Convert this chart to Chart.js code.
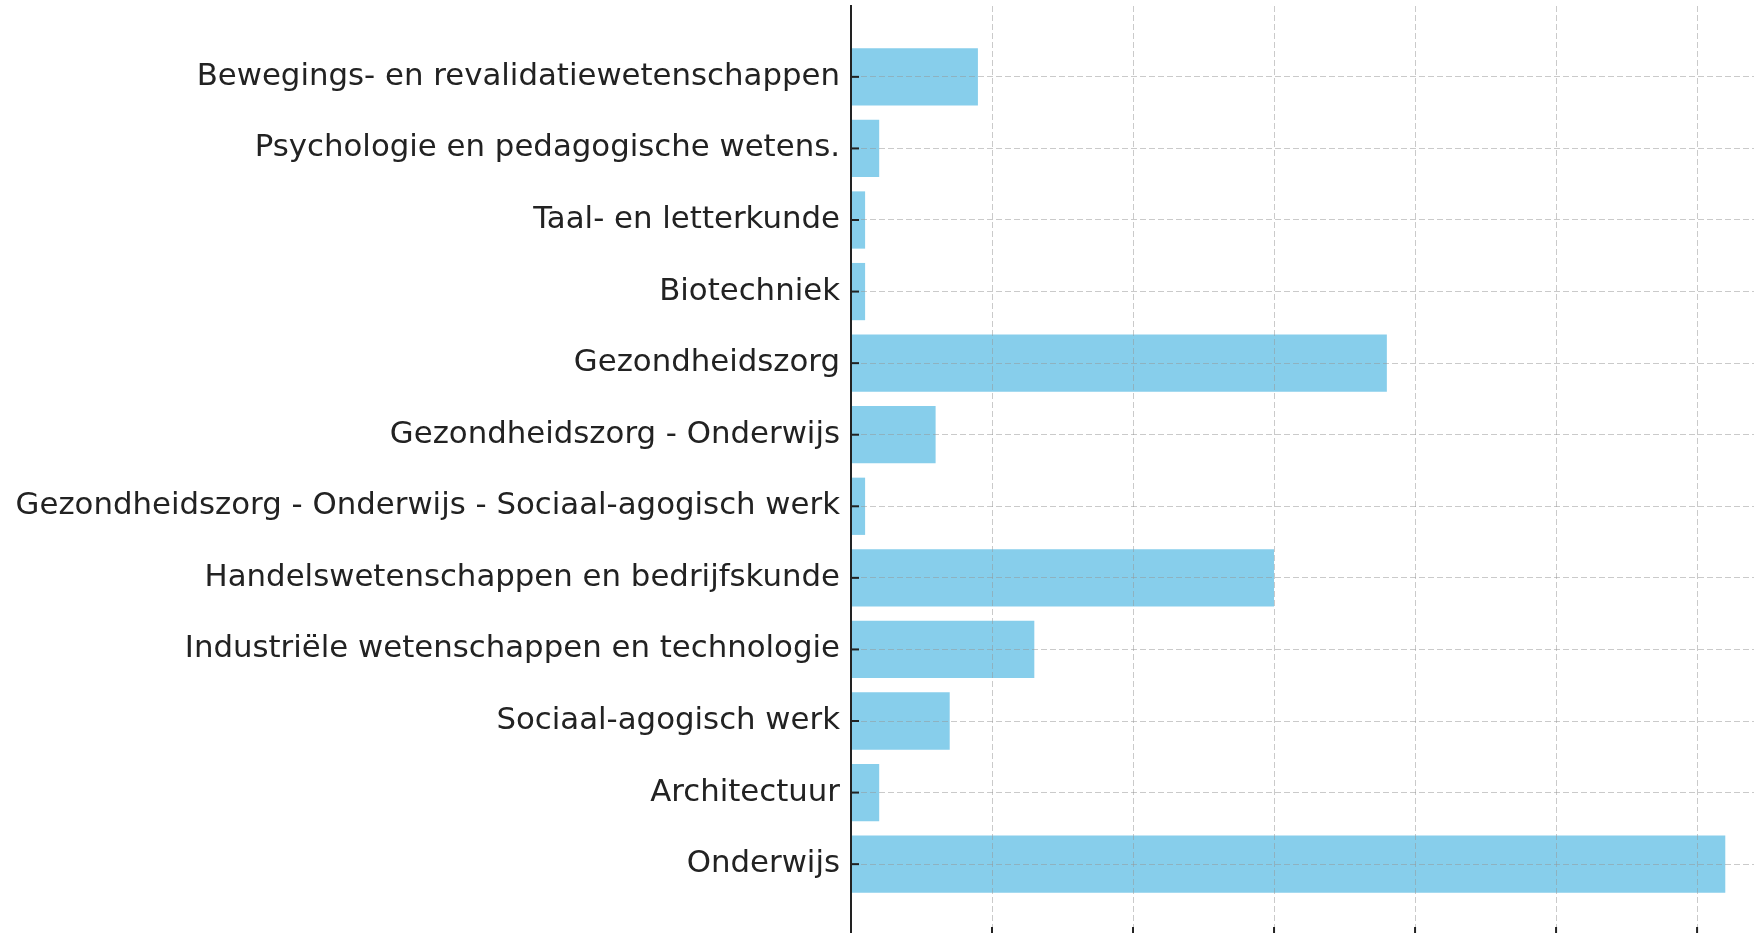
<!DOCTYPE html>
<html>
<head>
<meta charset="utf-8">
<title>Studenten per studiegebied</title>
<script src="https://cdn.jsdelivr.net/npm/chart.js@4.4.0/dist/chart.umd.min.js"></script>
<style>
  html, body { margin: 0; padding: 0; background: #ffffff; overflow: hidden; }
  #wrap { position: absolute; left: 0; top: 0; }
</style>
</head>
<body>
<div id="wrap">
  <canvas id="chart" width="1800" height="1000"></canvas>
</div>
<script>
const categories = [
  "Bewegings- en revalidatiewetenschappen",
  "Psychologie en pedagogische wetens.",
  "Taal- en letterkunde",
  "Biotechniek",
  "Gezondheidszorg",
  "Gezondheidszorg - Onderwijs",
  "Gezondheidszorg - Onderwijs - Sociaal-agogisch werk",
  "Handelswetenschappen en bedrijfskunde",
  "Industriële wetenschappen en technologie",
  "Sociaal-agogisch werk",
  "Architectuur",
  "Onderwijs"
];
const counts = [9, 2, 1, 1, 38, 6, 1, 30, 13, 7, 2, 62];
const xTickStep = 10;

const inkColor = "#222222";
const gridColor = "rgba(150,150,150,0.5)";

// inward tick marks like the original axes
const inwardTicks = {
  id: "inwardTicks",
  afterDraw(chart) {
    const { ctx, chartArea, scales } = chart;
    ctx.save();
    ctx.strokeStyle = inkColor;
    ctx.lineWidth = 2;
    scales.y.ticks.forEach(t => {
      const py = scales.y.getPixelForValue(t.value);
      ctx.beginPath();
      ctx.moveTo(chartArea.left, py);
      ctx.lineTo(chartArea.left + 8, py);
      ctx.stroke();
    });
    scales.x.ticks.forEach(t => {
      const px = scales.x.getPixelForValue(t.value);
      ctx.beginPath();
      ctx.moveTo(px, chartArea.bottom);
      ctx.lineTo(px, chartArea.bottom - 8);
      ctx.stroke();
    });
    ctx.restore();
  }
};

new Chart(document.getElementById("chart"), {
  type: "bar",
  plugins: [inwardTicks],
  data: {
    datasets: [{
      data: categories.map((c, i) => ({ x: counts[i], y: i })),
      backgroundColor: "#87CEEB",
      borderWidth: 0,
      barPercentage: 0.8,
      categoryPercentage: 1.0
    }]
  },
  options: {
    indexAxis: "y",
    responsive: false,
    animation: false,
    layout: { padding: { left: 0, top: 6, right: 31, bottom: 65 } },
    plugins: { legend: { display: false }, tooltip: { enabled: false } },
    scales: {
      x: {
        type: "linear",
        min: 0,
        max: Math.max(...counts) * 1.05,
        offset: false,
        ticks: { display: false, stepSize: xTickStep, includeBounds: false },
        grid: { color: gridColor, lineWidth: 1, drawTicks: false, offset: false, z: 1 },
        border: { display: false, dash: [6, 3] },
        afterFit(scale) {
          scale.height = 0;
          scale.paddingLeft = 0;
          scale.paddingRight = 0;
        }
      },
      y: {
        type: "linear",
        reverse: true,
        offset: false,
        min: -0.99,
        max: categories.length - 1 + 0.99,
        ticks: {
          stepSize: 1,
          includeBounds: false,
          autoSkip: false,
          padding: 11,
          color: inkColor,
          font: { family: "DejaVu Sans", size: 30.8 },
          callback: v => categories[v]
        },
        grid: { color: gridColor, lineWidth: 1, drawTicks: false, offset: false, z: 1 },
        border: { display: true, color: inkColor, width: 2, dash: [6, 3], z: 2 },
        afterFit(scale) {
          scale.width = 851;
          scale.paddingTop = 0;
          scale.paddingBottom = 0;
        }
      }
    }
  }
});
</script>
</body>
</html>
